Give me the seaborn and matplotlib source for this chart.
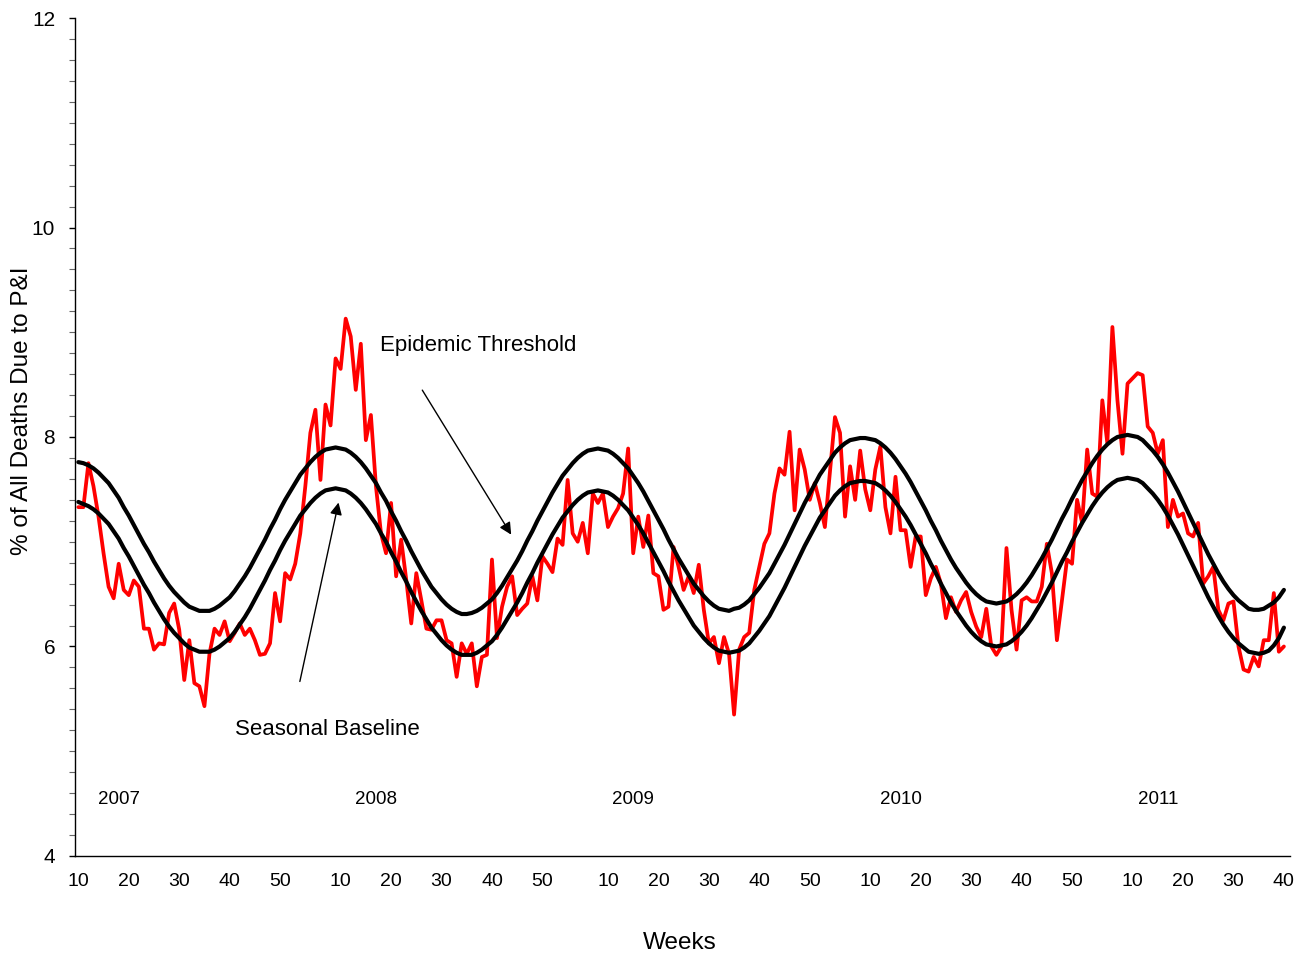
import numpy as np
import pandas as pd
import matplotlib
matplotlib.use("Agg")
import matplotlib.pyplot as plt
from matplotlib.ticker import MultipleLocator
import seaborn as sns

# calendar: MMWR weeks from 2007 week 10 to 2011 week 40
years = [2007, 2008, 2009, 2010, 2011]
weeks_in_year = [52, 53, 52, 52, 52]
first_week = 10
last_week = 40
tick_weeks = [10, 20, 30, 40, 50]
year_label_week = [18, 17, 15, 16, 15]   # week under which each year label sits

# % of all deaths due to P&I (weekly)
pi_pct = [
    7.33, 7.33, 7.75, 7.53, 7.24, 6.89, 6.57, 6.46, 6.79, 6.54,
    6.49, 6.63, 6.57, 6.17, 6.17, 5.97, 6.03, 6.02, 6.32, 6.41,
    6.16, 5.68, 6.06, 5.65, 5.62, 5.43, 5.93, 6.17, 6.11, 6.24,
    6.05, 6.13, 6.22, 6.11, 6.17, 6.06, 5.92, 5.93, 6.03, 6.51,
    6.24, 6.70, 6.64, 6.79, 7.08, 7.53, 8.04, 8.26, 7.59, 8.31,
    8.11, 8.75, 8.65, 9.13, 8.96, 8.45, 8.89, 7.97, 8.21, 7.53,
    7.08, 6.89, 7.37, 6.67, 7.02, 6.64, 6.22, 6.70, 6.44, 6.17,
    6.16, 6.25, 6.25, 6.06, 6.03, 5.71, 6.03, 5.93, 6.03, 5.62,
    5.90, 5.92, 6.83, 6.08, 6.38, 6.57, 6.67, 6.30, 6.36, 6.41,
    6.67, 6.44, 6.86, 6.79, 6.71, 7.03, 6.97, 7.59, 7.08, 7.00,
    7.18, 6.89, 7.46, 7.37, 7.46, 7.14, 7.24, 7.32, 7.46, 7.89,
    6.89, 7.24, 6.95, 7.25, 6.70, 6.67, 6.35, 6.38, 6.95, 6.76,
    6.54, 6.67, 6.51, 6.78, 6.35, 6.03, 6.09, 5.84, 6.09, 5.93,
    5.35, 5.97, 6.09, 6.13, 6.54, 6.76, 6.98, 7.08, 7.46, 7.70,
    7.64, 8.05, 7.30, 7.88, 7.69, 7.40, 7.56, 7.37, 7.14, 7.66,
    8.19, 8.04, 7.24, 7.72, 7.40, 7.87, 7.50, 7.30, 7.69, 7.91,
    7.33, 7.08, 7.62, 7.11, 7.11, 6.76, 7.05, 7.05, 6.49, 6.65,
    6.76, 6.60, 6.27, 6.47, 6.33, 6.44, 6.52, 6.33, 6.19, 6.09,
    6.36, 6.00, 5.92, 6.00, 6.94, 6.35, 5.97, 6.44, 6.47, 6.43,
    6.43, 6.57, 6.98, 6.70, 6.06, 6.44, 6.83, 6.79, 7.40, 7.18,
    7.88, 7.46, 7.43, 8.35, 7.94, 9.05, 8.35, 7.84, 8.51, 8.56,
    8.61, 8.59, 8.10, 8.04, 7.84, 7.97, 7.14, 7.40, 7.24, 7.27,
    7.08, 7.05, 7.18, 6.60, 6.67, 6.76, 6.35, 6.25, 6.41, 6.43,
    6.00, 5.78, 5.76, 5.90, 5.81, 6.06, 6.06, 6.51, 5.95, 6.00,
]

seasonal_baseline = [
    7.38, 7.36, 7.34, 7.31, 7.27, 7.22, 7.17, 7.10, 7.03, 6.94, 6.86, 6.77, 6.68,
    6.59, 6.51, 6.42, 6.34, 6.26, 6.19, 6.13, 6.08, 6.03, 5.99, 5.97, 5.95, 5.95,
    5.95, 5.97, 6.00, 6.04, 6.08, 6.14, 6.21, 6.28, 6.36, 6.45, 6.54, 6.63, 6.73,
    6.82, 6.92, 7.01, 7.09, 7.17, 7.25, 7.31, 7.37, 7.42, 7.46, 7.49, 7.50, 7.51,
    7.50, 7.49, 7.46, 7.42, 7.37, 7.31, 7.24, 7.17, 7.08, 7.00, 6.90, 6.81, 6.71,
    6.62, 6.52, 6.43, 6.34, 6.26, 6.18, 6.12, 6.06, 6.01, 5.97, 5.94, 5.92, 5.92,
    5.92, 5.94, 5.97, 6.01, 6.05, 6.11, 6.18, 6.26, 6.34, 6.42, 6.51, 6.61, 6.70,
    6.80, 6.89, 6.98, 7.07, 7.15, 7.23, 7.29, 7.35, 7.40, 7.44, 7.47, 7.48, 7.49,
    7.48, 7.47, 7.44, 7.40, 7.35, 7.30, 7.23, 7.16, 7.08, 6.99, 6.90, 6.81, 6.72,
    6.62, 6.53, 6.44, 6.36, 6.28, 6.20, 6.14, 6.08, 6.03, 5.99, 5.96, 5.95, 5.94,
    5.95, 5.96, 5.99, 6.03, 6.09, 6.15, 6.22, 6.29, 6.38, 6.47, 6.56, 6.66, 6.76,
    6.86, 6.96, 7.05, 7.14, 7.23, 7.30, 7.37, 7.44, 7.49, 7.53, 7.56, 7.57, 7.58, 7.58,
    7.57, 7.56, 7.53, 7.49, 7.44, 7.38, 7.31, 7.24, 7.16, 7.07, 6.98, 6.89, 6.79,
    6.70, 6.60, 6.51, 6.42, 6.34, 6.27, 6.20, 6.14, 6.09, 6.05, 6.02, 6.01, 6.00,
    6.01, 6.02, 6.05, 6.09, 6.14, 6.20, 6.27, 6.35, 6.43, 6.52, 6.61, 6.71, 6.81,
    6.90, 7.00, 7.09, 7.18, 7.26, 7.34, 7.41, 7.47, 7.52, 7.56, 7.59, 7.60, 7.61,
    7.60, 7.59, 7.56, 7.51, 7.46, 7.40, 7.33, 7.25, 7.16, 7.07, 6.97, 6.87, 6.77,
    6.67, 6.57, 6.47, 6.38, 6.29, 6.21, 6.14, 6.08, 6.03, 5.99, 5.95, 5.94,
    5.93, 5.94, 5.96, 6.01, 6.08, 6.18,
]

epidemic_threshold = [
    7.76, 7.75, 7.73, 7.70, 7.66, 7.61, 7.56, 7.49, 7.42, 7.33, 7.25, 7.16, 7.07,
    6.98, 6.90, 6.81, 6.73, 6.65, 6.58, 6.52, 6.47, 6.42, 6.38, 6.36, 6.34, 6.34,
    6.34, 6.36, 6.39, 6.43, 6.47, 6.53, 6.60, 6.67, 6.75, 6.84, 6.93, 7.02, 7.12,
    7.21, 7.31, 7.40, 7.48, 7.56, 7.64, 7.70, 7.76, 7.81, 7.85, 7.88, 7.89, 7.90,
    7.89, 7.88, 7.85, 7.81, 7.76, 7.70, 7.63, 7.56, 7.47, 7.39, 7.29, 7.20, 7.10,
    7.01, 6.91, 6.82, 6.73, 6.65, 6.57, 6.51, 6.45, 6.40, 6.36, 6.33, 6.31, 6.31,
    6.32, 6.34, 6.37, 6.41, 6.45, 6.51, 6.58, 6.66, 6.74, 6.82, 6.91, 7.01, 7.10,
    7.20, 7.29, 7.38, 7.47, 7.55, 7.63, 7.69, 7.75, 7.80, 7.84, 7.87, 7.88, 7.89,
    7.88, 7.87, 7.84, 7.80, 7.75, 7.70, 7.63, 7.56, 7.48, 7.39, 7.30, 7.21, 7.12,
    7.02, 6.93, 6.84, 6.76, 6.68, 6.60, 6.54, 6.48, 6.43, 6.39, 6.36, 6.35, 6.34,
    6.36, 6.37, 6.40, 6.44, 6.50, 6.56, 6.63, 6.70, 6.79, 6.88, 6.97, 7.07, 7.17,
    7.27, 7.37, 7.46, 7.55, 7.64, 7.71, 7.78, 7.85, 7.90, 7.94, 7.97, 7.98, 7.99, 7.99,
    7.98, 7.97, 7.94, 7.90, 7.85, 7.79, 7.72, 7.65, 7.57, 7.48, 7.39, 7.30, 7.20,
    7.11, 7.01, 6.92, 6.83, 6.75, 6.68, 6.61, 6.55, 6.50, 6.46, 6.43, 6.42, 6.41,
    6.42, 6.43, 6.46, 6.50, 6.55, 6.61, 6.68, 6.76, 6.84, 6.93, 7.02, 7.12, 7.22,
    7.31, 7.41, 7.50, 7.59, 7.67, 7.75, 7.82, 7.88, 7.93, 7.97, 8.00, 8.01, 8.02,
    8.01, 8.00, 7.97, 7.92, 7.87, 7.81, 7.74, 7.66, 7.57, 7.48, 7.38, 7.28, 7.18,
    7.08, 6.98, 6.88, 6.79, 6.70, 6.62, 6.55, 6.49, 6.44, 6.40, 6.36, 6.35,
    6.35, 6.36, 6.39, 6.42, 6.47, 6.54,
]

# build the week sequence
rows = []
for yr, nweeks in zip(years, weeks_in_year):
    start = first_week if yr == years[0] else 1
    stop = last_week if yr == years[-1] else nweeks
    for wk in range(start, stop + 1):
        rows.append((yr, wk))
cal = pd.DataFrame(rows, columns=["year", "week"])
cal["t"] = np.arange(len(cal))

assert len(cal) == len(pi_pct) == len(seasonal_baseline) == len(epidemic_threshold)

df = cal.copy()
df["pi"] = pi_pct
df["baseline"] = seasonal_baseline
df["threshold"] = epidemic_threshold

sns.set_style("white")
plt.rcParams["font.family"] = ["Liberation Sans", "DejaVu Sans"]
plt.rcParams["text.color"] = "black"

fig = plt.figure(figsize=(13.12, 9.58), dpi=100)
ax = fig.add_axes([0.0574, 0.1065, 0.9258, 0.8747])

sns.lineplot(data=df, x="t", y="pi", color="#ff0000", linewidth=2.7, ax=ax)
sns.lineplot(data=df, x="t", y="threshold", color="black", linewidth=3, ax=ax)
sns.lineplot(data=df, x="t", y="baseline", color="black", linewidth=3, ax=ax)

ax.set_xlim(-0.6, 240.2)
ax.set_ylim(4, 12)

# x ticks: week numbers within each year
ticks = cal[cal["week"].isin(tick_weeks)]
ax.set_xticks(ticks["t"])
ax.set_xticklabels(ticks["week"].astype(str), fontsize=14)
ax.tick_params(axis="x", length=0, pad=12, labelcolor="black")

ax.yaxis.set_major_locator(MultipleLocator(2))
ax.yaxis.set_minor_locator(MultipleLocator(0.2))
ax.tick_params(axis="y", which="major", direction="out", length=4.5, width=1,
               color="black", labelsize=15, pad=10, left=True, labelcolor="black")
ax.tick_params(axis="y", which="minor", direction="out", length=4, width=0.8,
               color="#666666", left=True)

ax.set_xlabel("")
ax.set_ylabel("")
for side in ["top", "right"]:
    ax.spines[side].set_visible(False)
for side in ["left", "bottom"]:
    ax.spines[side].set_color("black")
    ax.spines[side].set_linewidth(1)

# year labels under the curves
for yr, wk in zip(years, year_label_week):
    xc = cal.loc[(cal["year"] == yr) & (cal["week"] == wk), "t"].iloc[0]
    ax.text(xc, 4.535, str(yr), fontsize=13.5, ha="center", va="center")

ax.annotate("", xy=(86.1, 7.045), xytext=(67.9, 8.47),
            arrowprops=dict(arrowstyle="-|>", color="black", lw=1, mutation_scale=18))
ax.text(59.8, 8.87, "Epidemic Threshold", fontsize=16, ha="left", va="center")

ax.annotate("", xy=(51.7, 7.40), xytext=(43.8, 5.64),
            arrowprops=dict(arrowstyle="-|>", color="black", lw=1, mutation_scale=18))
ax.text(31.1, 5.21, "Seasonal Baseline", fontsize=16, ha="left", va="center")

fig.text(22 / 1312, 1 - 411 / 958, "% of All Deaths Due to P&I", rotation=90,
         fontsize=17.5, ha="center", va="center")
fig.text(680 / 1312, 1 - 943 / 958, "Weeks", fontsize=17.5, ha="center", va="center")

fig.savefig("out.png", dpi=100)
